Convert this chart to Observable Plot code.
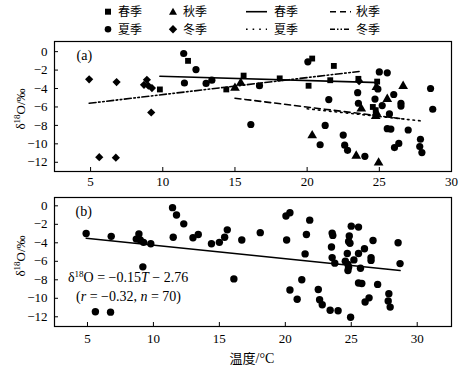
<!DOCTYPE html>
<html><head><meta charset="utf-8">
<script src="https://cdn.jsdelivr.net/npm/d3@7"></script>
<script src="https://cdn.jsdelivr.net/npm/@observablehq/plot@0.6"></script>
<style>
body{margin:0;background:#fff;}
#wrap{position:relative;width:473px;height:367px;overflow:hidden;background:#fff;color:#000;font-family:"Times New Roman","Liberation Serif","DejaVu Serif","Noto Sans CJK SC",serif;}
#wrap svg text{font-family:"Times New Roman","Liberation Serif","DejaVu Serif","Noto Sans CJK SC",serif;}
#wrap svg text.cjk{font-family:"Noto Sans CJK SC",sans-serif;}
.ylab{position:absolute;font-size:13px;white-space:nowrap;line-height:1;transform:translate(-50%,-50%) rotate(-90deg);}
.ylab sup,.eq sup{font-size:9px;vertical-align:0;position:relative;top:-5px;}
.eq{position:absolute;font-size:14px;white-space:nowrap;line-height:1;}
.xlab{position:absolute;font-size:14px;white-space:nowrap;line-height:1;transform:translate(-50%,-50%);}
.xlab .c{font-family:"Noto Sans CJK SC",sans-serif;font-size:13px;}
</style></head><body><div id="wrap"></div>
<script>
// ---------- data (temperature °C, δ18O ‰) ----------
const springT = [9.8, 11.75, 14.4, 15.6, 18.1, 20.1, 20.35, 21.6, 21.85, 23.55, 24.85, 24.55, 24.75];
const springV = [-4.1, -1.0, -4.1, -2.6, -2.9, -3.7, -0.75, -3.1, -1.55, -2.95, -3.25, -6.0, -6.35];
const autumnT = [15.0, 15.4, 20.35, 23.4, 23.75, 24.8, 24.8, 24.75, 24.95, 25.55, 26.65];
const autumnV = [-3.95, -3.4, -9.1, -11.3, -6.2, -3.85, -6.65, -7.0, -12.05, -5.15, -3.75];
const winterT = [4.9, 5.6, 6.75, 6.8, 8.7, 8.9, 9.0, 9.25, 9.2, 23.6];
const winterV = [-3.0, -11.45, -11.5, -3.3, -3.6, -3.05, -3.7, -3.95, -6.6, -3.2];
const summerT = [11.45, 11.5, 12.3, 13.0, 13.4, 16.1, 16.7, 20.05, 20.9, 21.25, 21.5, 22.5, 22.6, 22.8, 23.5, 23.55, 24.0,
                 25.0, 25.55, 24.7, 25.2, 26.0, 26.5, 26.5, 25.7, 25.55, 25.8, 27.0, 26.05, 26.35, 27.85, 27.8, 27.95, 28.55, 28.7, 24.9];
const summerV = [-0.2, -3.4, -1.95, -3.45, -3.1, -7.9, -3.7, -1.1, -10.1, -8.0, -5.2, -9.05, -10.15, -10.7, -4.45, -5.6, -11.35,
                 -2.2, -2.3, -5.15, -5.85, -4.65, -5.6, -5.9, -6.75, -8.35, -8.4, -8.5, -10.4, -9.95, -9.5, -10.3, -10.95, -4.0, -6.25, -4.05];
// regression line end points per season
const springLineT = [9.8, 25.0],  springLineV = [-2.67, -3.36];
const autumnLineT = [15.0, 26.7], autumnLineV = [-5.05, -7.3];
const summerLineT = [20.0, 28.1], summerLineV = [-6.2, -7.55];
const winterLineT = [4.9, 23.6],  winterLineV = [-5.6, -2.15];
const fitLineT = [4.9, 28.7],     fitLineV = [-3.5, -7.0];
// ticks / labels
const xTicks = [5, 10, 15, 20, 25, 30];
const yTicks = [0, -2, -4, -6, -8, -10, -12];
const seasonNames = ["春季", "夏季", "秋季", "冬季"];

// ---------- tables ----------
const toPts = (T, V, s) => T.map((t, i) => ({T: t, v: V[i], season: s}));
const spring = toPts(springT, springV, seasonNames[0]);
const summer = toPts(summerT, summerV, seasonNames[1]);
const autumn = toPts(autumnT, autumnV, seasonNames[2]);
const winter = toPts(winterT, winterV, seasonNames[3]);
const all = [...spring, ...summer, ...autumn, ...winter];
const ln = (T, V) => T.map((t, i) => ({T: t, v: V[i]}));

const FF = '"Times New Roman", "Liberation Serif", "DejaVu Serif", serif';
const fmt = d => d < 0 ? "\u2212" + Math.abs(d) : String(d);
const wrap = document.getElementById("wrap");

function place(el, left, top) {
  el.style.position = "absolute"; el.style.left = left + "px"; el.style.top = top + "px";
  wrap.appendChild(el);
}

// ---------- panel (a) ----------
const pa = Plot.plot({
  width: 473, height: 190, marginLeft: 54, marginRight: 22, marginTop: 41, marginBottom: 19,
  style: {fontFamily: FF, fontSize: "13px", background: "transparent", color: "#000", overflow: "visible"},
  x: {domain: [2.5, 30], label: null},
  y: {domain: [-13, 1.1], label: null},
  marks: [
    Plot.line(ln(springLineT, springLineV), {x: "T", y: "v", stroke: "#000", strokeWidth: 1.6}),
    Plot.line(ln(autumnLineT, autumnLineV), {x: "T", y: "v", stroke: "#000", strokeWidth: 1.6, strokeDasharray: "6,4"}),
    Plot.line(ln(summerLineT, summerLineV), {x: "T", y: "v", stroke: "#000", strokeWidth: 1.6, strokeDasharray: "1.6,4"}),
    Plot.line(ln(winterLineT, winterLineV), {x: "T", y: "v", stroke: "#000", strokeWidth: 1.6, strokeDasharray: "7,2.5,1.6,2.5,1.6,2.5"}),
    Plot.dot(summer, {x: "T", y: "v", symbol: "circle", fill: "#000", r: 3.6}),
    Plot.dot(spring, {x: "T", y: "v", symbol: "square", fill: "#000", r: 3.3}),
    Plot.dot(autumn, {x: "T", y: "v", symbol: "triangle", fill: "#000", r: 3.6}),
    Plot.dot(winter, {x: "T", y: "v", symbol: "diamond2", fill: "#000", r: 3.7}),
    Plot.frame({stroke: "#000", strokeWidth: 1.2}),
    Plot.axisX(xTicks, {tickSize: -4, tickPadding: 9, tickFormat: fmt, label: null}),
    Plot.axisY(yTicks, {tickSize: -4, tickPadding: 11, tickFormat: fmt, label: null}),
    Plot.text(["(a)"], {frameAnchor: "top-left", dx: 22, dy: 9, fontSize: 14, textAnchor: "start"})
  ]
});
place(pa, 0, 0);

// ---------- panel (b) ----------
const pb = Plot.plot({
  width: 473, height: 182, marginLeft: 54, marginRight: 22, marginTop: 12, marginBottom: 41,
  style: {fontFamily: FF, fontSize: "13px", background: "transparent", color: "#000", overflow: "visible"},
  x: {domain: [2.5, 32.6], label: null},
  y: {domain: [-13.05, 0.9], label: null},
  marks: [
    Plot.line(ln(fitLineT, fitLineV), {x: "T", y: "v", stroke: "#000", strokeWidth: 1.6}),
    Plot.dot(all, {x: "T", y: "v", fill: "#000", r: 3.7}),
    Plot.frame({stroke: "#000", strokeWidth: 1.2}),
    Plot.axisX(xTicks, {tickSize: -4, tickPadding: 11, tickFormat: fmt, label: null}),
    Plot.axisY(yTicks, {tickSize: -4, tickPadding: 11, tickFormat: fmt, label: null}),
    Plot.text(["(b)"], {frameAnchor: "top-left", dx: 21, dy: 9, fontSize: 14, textAnchor: "start"})
  ]
});
place(pb, 0, 185);

// ---------- axis titles & annotation ----------
function html(cls, h, x, y) {
  const d = document.createElement("div"); d.className = cls; d.innerHTML = h;
  d.style.left = x + "px"; d.style.top = y + "px"; wrap.appendChild(d); return d;
}
html("ylab", "δ<sup>18</sup>O/‰", 20, 109);
html("ylab", "δ<sup>18</sup>O/‰", 20, 256);
html("xlab", "<span class='c'>温度</span>/°C", 252, 358);
html("eq", "δ<sup>18</sup>O = \u22120.15<i>T</i> \u2212 2.76", 68, 271);
html("eq", "(<i>r</i> = \u22120.32, <i>n</i> = 70)", 76, 290);

// ---------- legend ----------
const NS = "http://www.w3.org/2000/svg";
const lg = document.createElementNS(NS, "svg");
lg.setAttribute("width", 473); lg.setAttribute("height", 40);
lg.style.position = "absolute"; lg.style.left = "0px"; lg.style.top = "0px";
const rows = [11.7, 29.3];
const items = [
  {kind: "square", x: 108, tx: 118, row: 0, label: seasonNames[0]},
  {kind: "triangle", x: 173, tx: 183, row: 0, label: seasonNames[2]},
  {kind: "line", x: 246, tx: 274, row: 0, label: seasonNames[0], dash: null},
  {kind: "line", x: 330, tx: 356, row: 0, label: seasonNames[2], dash: "6,4"},
  {kind: "circle", x: 108, tx: 118, row: 1, label: seasonNames[1]},
  {kind: "diamond", x: 173, tx: 183, row: 1, label: seasonNames[3]},
  {kind: "line", x: 246, tx: 274, row: 1, label: seasonNames[1], dash: "1.6,5"},
  {kind: "line", x: 330, tx: 356, row: 1, label: seasonNames[3], dash: "5,2,1.5,2,1.5,2"}
];
for (const it of items) {
  const y = rows[it.row];
  let el;
  if (it.kind === "square") {
    el = document.createElementNS(NS, "rect");
    el.setAttribute("x", it.x - 3); el.setAttribute("y", y - 3); el.setAttribute("width", 6); el.setAttribute("height", 6);
  } else if (it.kind === "circle") {
    el = document.createElementNS(NS, "circle");
    el.setAttribute("cx", it.x); el.setAttribute("cy", y); el.setAttribute("r", 3.3);
  } else if (it.kind === "triangle") {
    el = document.createElementNS(NS, "path");
    el.setAttribute("d", `M${it.x},${y - 4}L${it.x + 4},${y + 3}L${it.x - 4},${y + 3}Z`);
  } else if (it.kind === "diamond") {
    el = document.createElementNS(NS, "path");
    el.setAttribute("d", `M${it.x},${y - 4.2}L${it.x + 4.2},${y}L${it.x},${y + 4.2}L${it.x - 4.2},${y}Z`);
  } else {
    el = document.createElementNS(NS, "line");
    el.setAttribute("x1", it.x); el.setAttribute("x2", it.x + 21); el.setAttribute("y1", y); el.setAttribute("y2", y);
    el.setAttribute("stroke", "#000"); el.setAttribute("stroke-width", 1.6);
    if (it.dash) el.setAttribute("stroke-dasharray", it.dash);
  }
  if (it.kind !== "line") el.setAttribute("fill", "#000");
  lg.appendChild(el);
  const t = document.createElementNS(NS, "text");
  t.setAttribute("class", "cjk");
  t.setAttribute("x", it.tx); t.setAttribute("y", y); t.setAttribute("dy", "0.36em");
  t.setAttribute("font-size", 12);
  t.textContent = it.label;
  lg.appendChild(t);
}
wrap.appendChild(lg);
</script>
</body></html>
